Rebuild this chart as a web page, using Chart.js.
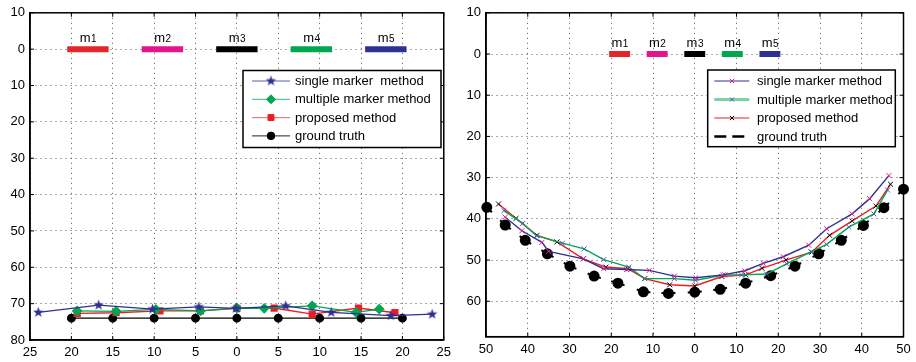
<!DOCTYPE html>
<html>
<head>
<meta charset="utf-8">
<script src="https://cdn.jsdelivr.net/npm/chart.js@4/dist/chart.umd.min.js"></script>
<style>
    body { margin: 0; background: #fff; }
    #wrap { position: relative; width: 916px; height: 362px; }
    #leftChart { position: absolute; left: 0; top: 0; }
    #rightChart { position: absolute; left: 456px; top: 0; }
</style>
</head>
<body>
<div id="wrap">
    <canvas id="leftChart" width="456" height="362"></canvas>
    <canvas id="rightChart" width="460" height="362"></canvas>
</div>
<script>
"use strict";

// Left panel: flat profile
const leftSingleX = [-24.0, -16.7, -10.2, -4.6, -0.1, 5.9, 11.4, 18.6, 23.6];
const leftSingleY = [72.4, 70.4, 71.5, 70.9, 71.3, 70.6, 72.4, 73.3, 72.9];
const leftMultiX = [-19.3, -14.6, -9.8, -4.4, 0, 3.3, 9.1, 14.4, 17.2];
const leftMultiY = [72.0, 72.1, 71.6, 72.0, 71.2, 71.3, 70.6, 72.4, 71.5];
const leftPropX = [-19.3, -14.6, -9.3, -4.4, 0, 4.5, 9.1, 14.7, 19.1];
const leftPropY = [72.7, 72.5, 72.0, 72.0, 71.3, 71.2, 72.9, 71.2, 72.5];
const leftTruthX = [-20, -15, -10, -5, 0, 5, 10, 15, 20];
const leftTruthY = [74, 74, 74, 74, 74, 74, 74, 74, 74];

// Right panel: curved profile
const rightSingleX = [-45.4, -41.4, -36.6, -35.0, -26.7, -21.8, -16.3, -10.9, -4.9, 0.2, 6.8, 12.0, 16.4, 21.2, 27.3, 31.6, 37.7, 41.9, 46.5];
const rightSingleY = [39.6, 42.9, 45.7, 47.9, 49.7, 52.1, 52.3, 52.5, 53.9, 54.3, 53.6, 52.6, 50.8, 49.2, 46.4, 42.4, 38.8, 35.1, 29.5];
const rightMultiX = [-45.7, -41.2, -37.9, -31.7, -26.5, -21.8, -15.8, -12.0, -4.9, 0.2, 7.2, 11.2, 17.2, 22.0, 27.8, 31.6, 36.9, 42.9, 46.2];
const rightMultiY = [38.0, 41.1, 44.1, 45.9, 47.3, 49.9, 51.7, 54.5, 54.5, 54.9, 53.6, 53.6, 53.4, 50.9, 48.0, 46.2, 42.0, 38.8, 33.0];
const rightPropX = [-47.0, -42.8, -37.8, -33.0, -26.7, -21.3, -16.0, -12.0, -6.0, 0, 6.5, 12.2, 16.1, 21.8, 28.0, 32.3, 37.7, 43.4, 46.9];
const rightPropY = [36.4, 39.9, 44.0, 45.6, 49.7, 51.7, 52.1, 54.5, 56.0, 56.3, 54.0, 53.6, 52.0, 50.0, 48.1, 44.0, 40.5, 36.9, 31.6];
const rightTruthX = [-49.8, -45.4, -40.6, -35.3, -29.9, -24.1, -18.4, -12.3, -6.3, 0, 6.1, 12.2, 18.2, 24.0, 29.7, 35.1, 40.4, 45.3, 50.0];
const rightTruthY = [37.2, 41.5, 45.2, 48.5, 51.5, 53.9, 55.6, 57.7, 58.1, 57.8, 57.1, 55.6, 53.8, 51.5, 48.5, 45.2, 41.6, 37.3, 32.8];

// marker strips m1..m5 at depth 0 (same in both panels)
const markerStart = [-20.5, -11.5, -2.5, 6.5, 15.5];
const markerEnd = [-15.5, -6.5, 2.5, 11.5, 20.5];
const markerNames = ['1', '2', '3', '4', '5'];

const BLUE = '#2e3192';
const GREEN = '#00a651';
const RED = '#ed1c24';
const MAGENTA = '#e6158c';
const markerColors = ['#e3262b', '#e4148c', '#000000', '#00a650', '#2e3192'];
const FONT = "'Liberation Sans', Arial, sans-serif";

Chart.defaults.font.family = FONT;
Chart.defaults.font.size = 13;
Chart.defaults.color = '#000';

const toPoints = (xs, ys) => xs.map((x, i) => ({ x: x, y: ys[i] }));

function makeStar(color, r) {
    const c = document.createElement('canvas');
    c.width = c.height = Math.ceil(r * 2 + 2);
    const g = c.getContext('2d');
    const cx = c.width / 2, cy = c.height / 2;
    g.beginPath();
    for (let i = 0; i < 10; i++) {
        const rr = i % 2 === 0 ? r : r * 0.42;
        const a = -Math.PI / 2 + i * Math.PI / 5;
        g.lineTo(cx + rr * Math.cos(a), cy + rr * Math.sin(a));
    }
    g.closePath();
    g.fillStyle = color;
    g.fill();
    return c;
}
const starIcon = makeStar(BLUE, 5.5);

function markerBars() {
    return markerStart.map((s, i) => ({
        data: [{ x: s, y: 0 }, { x: markerEnd[i], y: 0 }],
        borderColor: markerColors[i],
        borderWidth: 6,
        borderCapStyle: 'butt',
        pointRadius: 0,
        clip: false,
        mLabel: markerNames[i]
    }));
}

// box + inner tick marks like the original figure
const framePlugin = {
    id: 'frame',
    beforeDatasetsDraw(chart) {
        const { ctx, chartArea: a, scales } = chart;
        ctx.save();
        ctx.strokeStyle = '#000';
        ctx.lineWidth = 1;
        ctx.beginPath();
        scales.x.ticks.forEach(t => {
            const px = scales.x.getPixelForValue(t.value);
            ctx.moveTo(px, a.bottom); ctx.lineTo(px, a.bottom - 4);
            ctx.moveTo(px, a.top); ctx.lineTo(px, a.top + 4);
        });
        scales.y.ticks.forEach(t => {
            const py = scales.y.getPixelForValue(t.value);
            ctx.moveTo(a.left, py); ctx.lineTo(a.left + 4, py);
            ctx.moveTo(a.right, py); ctx.lineTo(a.right - 4, py);
        });
        ctx.stroke();
        ctx.lineWidth = 1.5;
        ctx.strokeRect(a.left, a.top, a.width, a.height);
        ctx.restore();
    }
};

// "m1".."m5" captions above the strips
const markerLabelPlugin = {
    id: 'markerLabels',
    afterDatasetsDraw(chart) {
        const { ctx, scales } = chart;
        ctx.save();
        ctx.fillStyle = '#000';
        ctx.textBaseline = 'alphabetic';
        chart.data.datasets.forEach(ds => {
            if (!ds.mLabel) return;
            const cx = scales.x.getPixelForValue((ds.data[0].x + ds.data[1].x) / 2);
            const base = scales.y.getPixelForValue(0) - 7;
            ctx.font = '13px ' + FONT;
            const wm = ctx.measureText('m').width;
            ctx.font = '10px ' + FONT;
            const wd = ctx.measureText(ds.mLabel).width;
            const x0 = cx - (wm + wd) / 2;
            ctx.font = '13px ' + FONT;
            ctx.fillText('m', x0, base);
            ctx.font = '10px ' + FONT;
            ctx.fillText(ds.mLabel, x0 + wm + 0.5, base);
        });
        ctx.restore();
    }
};

function boxLegend(cfg) {
    return {
        id: 'boxLegend',
        afterDraw(chart) {
            const ctx = chart.ctx;
            ctx.save();
            ctx.fillStyle = '#fff';
            ctx.fillRect(cfg.x, cfg.y, cfg.w, cfg.h);
            ctx.strokeStyle = '#000';
            ctx.lineWidth = 1.5;
            ctx.strokeRect(cfg.x, cfg.y, cfg.w, cfg.h);
            cfg.rows.forEach((row, i) => {
                const y = cfg.y + cfg.first + i * cfg.gap;
                ctx.strokeStyle = row.color;
                ctx.lineWidth = row.width;
                ctx.setLineDash(row.dash || []);
                ctx.beginPath();
                ctx.moveTo(cfg.x + cfg.lineFrom, y);
                ctx.lineTo(cfg.x + cfg.lineTo, y);
                ctx.stroke();
                ctx.setLineDash([]);
                if (row.marker) {
                    ctx.fillStyle = row.markerColor;
                    ctx.strokeStyle = row.markerColor;
                    ctx.lineWidth = 1;
                    Chart.helpers.drawPoint(ctx, {
                        pointStyle: row.marker, radius: row.radius, borderWidth: 1, rotation: 0
                    }, cfg.x + cfg.markAt, y);
                }
                ctx.fillStyle = '#000';
                ctx.font = '13px ' + FONT;
                ctx.textBaseline = 'middle';
                ctx.fillText(row.label, cfg.x + cfg.textFrom, y + 0.5);
            });
            ctx.restore();
        }
    };
}

function axes(xMin, xMax, xStep, yMax, xHeight) {
    const grid = { color: '#555', lineWidth: 1, drawTicks: false };
    const border = { color: '#000', width: 1.5, dash: [1, 4] };
    return {
        x: {
            type: 'linear', min: xMin, max: xMax,
            ticks: { stepSize: xStep, padding: 5, maxRotation: 0, autoSkip: false, includeBounds: false, callback: v => Math.abs(v) },
            grid: grid, border: border,
            afterFit: s => { s.height = xHeight; }
        },
        y: {
            type: 'linear', reverse: true, min: -10, max: yMax,
            ticks: { stepSize: 10, padding: 5, includeBounds: false, callback: v => Math.abs(v) },
            grid: grid, border: border,
            afterFit: s => { s.width = 30; }
        }
    };
}

const baseOptions = (padding, scales) => ({
    responsive: false,
    animation: false,
    layout: { padding: padding },
    plugins: { legend: { display: false }, tooltip: { enabled: false } },
    scales: scales
});

// ---- left chart
new Chart(document.getElementById('leftChart'), {
    type: 'line',
    data: {
        datasets: [
            { label: 'single marker  method', data: toPoints(leftSingleX, leftSingleY), borderColor: BLUE, backgroundColor: BLUE, borderWidth: 1.3, pointStyle: starIcon, pointRadius: 5 },
            { label: 'multiple marker method', data: toPoints(leftMultiX, leftMultiY), borderColor: GREEN, backgroundColor: GREEN, borderWidth: 1.3, pointStyle: 'rectRot', pointRadius: 4.5 },
            { label: 'proposed method', data: toPoints(leftPropX, leftPropY), borderColor: RED, backgroundColor: RED, borderWidth: 1.3, pointStyle: 'rect', pointRadius: 4.2 },
            { label: 'ground truth', data: toPoints(leftTruthX, leftTruthY), borderColor: '#000', backgroundColor: '#000', borderWidth: 1.3, pointStyle: 'circle', pointRadius: 3.8 }
        ].concat(markerBars())
    },
    options: baseOptions({ top: 10, right: 7, left: 0, bottom: 0 }, axes(-25, 25, 5, 80, 22)),
    plugins: [framePlugin, markerLabelPlugin, boxLegend({
        x: 243, y: 70.5, w: 198, h: 77, first: 10.5, gap: 18.3,
        lineFrom: 9, lineTo: 47, markAt: 28, textFrom: 52,
        rows: [
            { label: 'single marker  method', color: '#5a5cb4', width: 1, marker: starIcon, markerColor: BLUE, radius: 5 },
            { label: 'multiple marker method', color: '#3bb872', width: 1, marker: 'rectRot', markerColor: GREEN, radius: 4.5 },
            { label: 'proposed method', color: '#f08080', width: 1.2, marker: 'rect', markerColor: RED, radius: 4.2 },
            { label: 'ground truth', color: '#222', width: 1, marker: 'circle', markerColor: '#000', radius: 3.8 }
        ]
    })]
});

// ---- right chart
new Chart(document.getElementById('rightChart'), {
    type: 'line',
    data: {
        datasets: [
            { label: 'single marker method', data: toPoints(rightSingleX, rightSingleY), borderColor: BLUE, borderWidth: 1.4, pointStyle: 'crossRot', pointRadius: 3.5, pointBorderColor: MAGENTA, pointBorderWidth: 1 },
            { label: 'multiple marker method', data: toPoints(rightMultiX, rightMultiY), borderColor: GREEN, borderWidth: 1.4, pointStyle: 'crossRot', pointRadius: 3.5, pointBorderColor: '#4a5bb0', pointBorderWidth: 1 },
            { label: 'proposed method', data: toPoints(rightPropX, rightPropY), borderColor: RED, borderWidth: 1.4, pointStyle: 'crossRot', pointRadius: 3.5, pointBorderColor: '#000', pointBorderWidth: 1 },
            {
                label: 'ground truth', data: toPoints(rightTruthX, rightTruthY),
                borderColor: '#000', backgroundColor: '#000', borderWidth: 2, borderCapStyle: 'butt',
                pointStyle: 'circle', pointRadius: 4.5, clip: false,
                // short dash on both ends of every segment, so each dot gets a tangent stroke
                segment: {
                    borderDash: c => {
                        const d = Math.hypot(c.p1.x - c.p0.x, c.p1.y - c.p0.y);
                        return [7, Math.max(d - 14, 0.01) + c.p0DataIndex * 1e-6];
                    }
                }
            }
        ].concat(markerBars())
    },
    options: baseOptions({ top: 9.5, right: 12.5, left: 0, bottom: 0 }, axes(-50, 50, 10, 68.6, 25.3)),
    plugins: [framePlugin, markerLabelPlugin, boxLegend({
        x: 251.7, y: 70, w: 187.6, h: 76.7, first: 11, gap: 18.5,
        lineFrom: 6.6, lineTo: 41.6, markAt: 24.3, textFrom: 49.3,
        rows: [
            { label: 'single marker method', color: BLUE, width: 1, marker: 'crossRot', markerColor: MAGENTA, radius: 3 },
            { label: 'multiple marker method', color: '#7fd1a3', width: 3, marker: 'crossRot', markerColor: '#4a5bb0', radius: 3 },
            { label: 'proposed method', color: RED, width: 1, marker: 'crossRot', markerColor: '#000', radius: 3 },
            { label: 'ground truth', color: '#000', width: 2.5, dash: [12, 6] }
        ]
    })]
});
</script>
</body>
</html>
